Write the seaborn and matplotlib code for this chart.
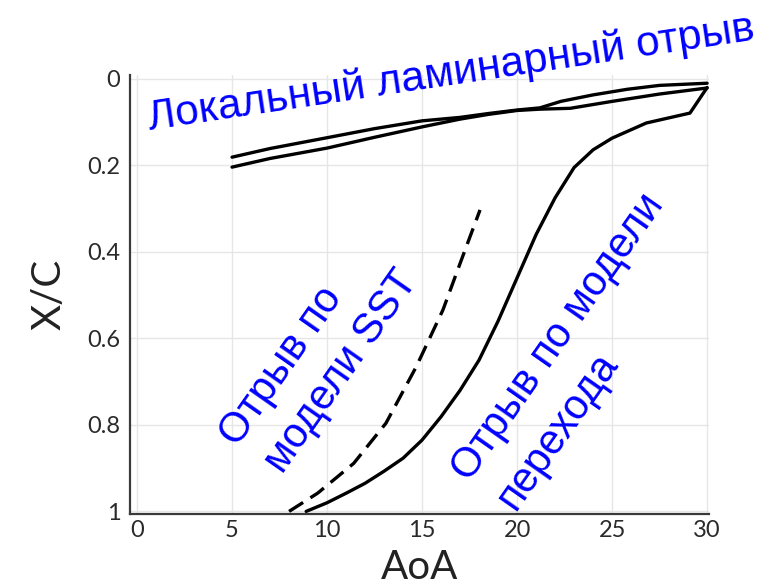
import matplotlib
matplotlib.use("Agg")
import matplotlib.pyplot as plt
import seaborn as sns
import pandas as pd

# ---- data ----
lam_upper_x = [5, 7, 10, 12.5, 15, 17, 18.5, 20, 21.2, 22.3, 24, 25.8, 27.5, 30]
lam_upper_y = [0.181, 0.161, 0.136, 0.115, 0.097, 0.089, 0.080, 0.072, 0.067, 0.052, 0.037, 0.024, 0.015, 0.010]

lam_lower_x = [5, 7, 10, 12.5, 15, 17, 18.5, 20, 21.2, 22.8, 25, 27.5, 30]
lam_lower_y = [0.204, 0.184, 0.160, 0.135, 0.111, 0.093, 0.082, 0.073, 0.070, 0.068, 0.052, 0.035, 0.021]

sst_x = [8.0, 9.5, 11.4, 13.1, 14.7, 16.1, 17.2, 18.05]
sst_y = [1.0, 0.958, 0.889, 0.796, 0.665, 0.534, 0.403, 0.303]

tr_x = [8.9, 10, 11, 12, 13, 14, 15, 16, 17, 18, 19, 20, 21, 22, 23, 24, 25, 26.8, 29.1, 30.0]
tr_y = [1.0, 0.98, 0.958, 0.935, 0.907, 0.877, 0.835, 0.781, 0.72, 0.65, 0.56, 0.46, 0.36, 0.275,
        0.205, 0.164, 0.137, 0.102, 0.079, 0.02]

x_ticks = [0, 5, 10, 15, 20, 25, 30]
x_tick_labels = ["0", "5", "10", "15", "20", "25", "30"]
y_ticks = [0, 0.2, 0.4, 0.6, 0.8, 1.0]
y_tick_labels = ["0", "0.2", "0.4", "0.6", "0.8", "1"]

label_laminar = "Локальный ламинарный отрыв"
label_sst = ["Отрыв по", "модели SST"]
label_tr = ["Отрыв по модели", "перехода"]

# ---- style ----
sns.set_theme(style="whitegrid")
plt.rcParams["font.family"] = ["Lato", "DejaVu Sans"]

fig = plt.figure(figsize=(7.69, 5.88), dpi=100)
ax = fig.add_axes([130 / 769, 1 - 514 / 588, (709 - 130) / 769, (514 - 75) / 588])

def draw(xs, ys, dashed=False):
    df = pd.DataFrame({"x": xs, "y": ys})
    kw = dict(color="black", linewidth=2.4, sort=False, estimator=None, ax=ax)
    l = sns.lineplot(data=df, x="x", y="y", **kw)
    line = l.lines[-1]
    line.set_solid_joinstyle("round")
    line.set_dash_joinstyle("round")
    if dashed:
        line.set_dashes((5, 2.6))

draw(lam_upper_x, lam_upper_y)
draw(lam_lower_x, lam_lower_y)
draw(tr_x, tr_y)
draw(sst_x, sst_y, dashed=True)

ax.set_xlim(-0.37, 30.1)
ax.set_ylim(1.006, -0.009)
ax.set_xticks(x_ticks)
ax.set_xticklabels(x_tick_labels)
ax.set_yticks(y_ticks)
ax.set_yticklabels(y_tick_labels)

ax.grid(True, color="#e6e6e6", linewidth=1.0)
ax.set_facecolor("white")
for s in ["top", "right"]:
    ax.spines[s].set_visible(False)
for s in ["left", "bottom"]:
    ax.spines[s].set_visible(True)
    ax.spines[s].set_color("#3a3a3a")
    ax.spines[s].set_linewidth(1.6)

ax.tick_params(axis="both", length=0, labelsize=17, labelcolor="#2a2a2a")
ax.tick_params(axis="x", pad=4)
ax.tick_params(axis="y", pad=7)

ax.set_xlabel("AoA", fontsize=29, color="#222222", labelpad=6)
ax.set_ylabel("X/C", fontsize=29, color="#222222", labelpad=14)

# ---- annotations ----
tfont = dict(family=["Liberation Sans", "DejaVu Sans"], color="#0000FF", fontsize=30,
             ha="left", va="baseline", rotation_mode="anchor")
ax.text(0.68, 0.118, label_laminar, rotation=8.5, **{**tfont, "fontsize": 30.6})
ax.text(5.27, 0.854, label_sst[0], rotation=55, **tfont)
ax.text(7.64, 0.916, label_sst[1], rotation=55, **tfont)
ax.text(17.48, 0.935, label_tr[0], rotation=55, **tfont)
ax.text(19.9, 1.0, label_tr[1], rotation=55, **tfont)

fig.savefig("out.png", dpi=100)
